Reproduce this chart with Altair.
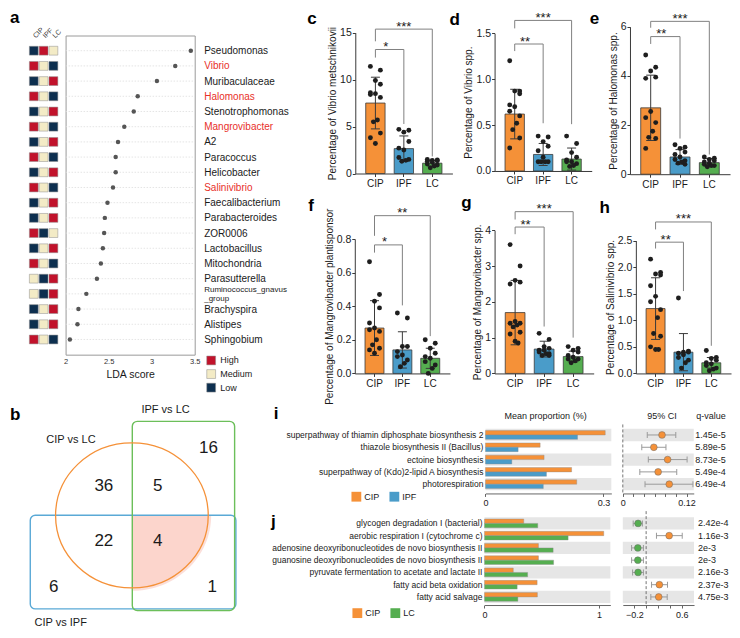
import json
import altair as alt
import pandas as pd

# ===================== DATA =====================
GROUPS = ["CIP", "IPF", "LC"]
LEVELS = ["High", "Medium", "Low"]

lda_taxa = ["Pseudomonas", "Vibrio", "Muribaculaceae", "Halomonas", "Stenotrophomonas",
            "Mangrovibacter", "A2", "Paracoccus", "Helicobacter", "Salinivibrio",
            "Faecalibacterium", "Parabacteroides", "ZOR0006", "Lactobacillus", "Mitochondria",
            "Parasutterella", "Ruminococcus_gnavus_group", "Brachyspira", "Alistipes", "Sphingobium"]
lda_score = [3.455, 3.274, 3.061, 2.838, 2.792, 2.682, 2.609, 2.582, 2.582, 2.551,
             2.487, 2.456, 2.448, 2.433, 2.410, 2.364, 2.241, 2.149, 2.138, 2.050]
lda_cip = ["Low", "High", "Low", "High", "Low", "High", "Low", "High", "Low", "High",
           "Low", "Low", "High", "Low", "High", "Medium", "Medium", "Low", "Low", "High"]
lda_ipf = ["High", "Medium", "Medium", "Medium", "Medium", "Medium", "Medium", "Medium", "Medium", "Medium",
           "Medium", "Medium", "Low", "Medium", "Medium", "Low", "Low", "Medium", "Medium", "Medium"]
lda_lc = ["Medium", "Low", "High", "Low", "High", "Low", "High", "Low", "High", "Low",
          "High", "High", "Medium", "High", "Low", "High", "High", "High", "High", "Low"]
lda_red = ["Vibrio", "Halomonas", "Mangrovibacter", "Salinivibrio"]

c_cip = [11.4, 11.0, 9.9, 9.5, 8.6, 8.5, 8.4, 8.1, 5.7, 5.5, 4.3, 3.8, 3.2]
c_ipf = [4.7, 4.6, 4.4, 3.4, 2.7, 2.5, 1.7, 1.5, 1.4, 1.3]
c_lc = [1.5, 1.45, 1.4, 1.35, 1.3, 1.2, 1.0, 0.9, 0.8, 0.6]
c_mean = [7.5, 2.65, 1.1]
c_sd = [2.75, 1.35, 0.3]
c_brackets = [("CIP", "LC", 15.37, 14.07, 1.82, "***"), ("CIP", "IPF", 13.2, 12.34, 5.27, "*")]

d_cip = [1.2, 0.87, 0.87, 0.84, 0.72, 0.7, 0.65, 0.6, 0.52, 0.45, 0.36, 0.25]
d_ipf = [0.38, 0.37, 0.32, 0.27, 0.22, 0.15, 0.1, 0.1, 0.1, 0.1]
d_lc = [0.38, 0.3, 0.2, 0.15, 0.12, 0.1, 0.1, 0.08, 0.06, 0.05]
d_mean = [0.62, 0.18, 0.13]
d_sd = [0.27, 0.12, 0.12]
d_brackets = [("CIP", "LC", 1.64, 1.553, 0.51, "***"), ("CIP", "IPF", 1.383, 1.306, 0.52, "**")]

e_cip = [4.85, 4.35, 4.2, 3.95, 3.9, 2.55, 2.3, 2.1, 1.75, 1.5, 1.45, 1.05]
e_ipf = [1.2, 1.1, 1.05, 0.9, 0.8, 0.7, 0.6, 0.55, 0.5, 0.45, 0.4]
e_lc = [0.7, 0.65, 0.6, 0.55, 0.5, 0.45, 0.4, 0.35, 0.35, 0.3]
e_mean = [2.7, 0.7, 0.47]
e_sd = [1.33, 0.3, 0.17]
e_brackets = [("CIP", "LC", 6.22, 5.96, 0.8, "***"), ("CIP", "IPF", 5.6, 5.3, 1.45, "**")]

f_cip = [0.665, 0.47, 0.43, 0.39, 0.3, 0.27, 0.26, 0.25, 0.2, 0.17, 0.15, 0.14, 0.12]
f_ipf = [0.36, 0.33, 0.16, 0.16, 0.13, 0.11, 0.1, 0.08, 0.06, 0.04]
f_lc = [0.2, 0.18, 0.15, 0.12, 0.1, 0.09, 0.07, 0.05, 0.03, 0.0]
f_mean = [0.27, 0.14, 0.09]
f_sd = [0.163, 0.108, 0.06]
f_brackets = [("CIP", "LC", 0.939, 0.819, 0.222, "**"), ("CIP", "IPF", 0.765, 0.719, 0.405, "*")]

g_cip = [3.6, 3.0, 2.6, 2.55, 2.5, 1.45, 1.4, 1.4, 1.35, 1.3, 1.15, 1.1, 0.9, 0.85]
g_ipf = [1.12, 0.95, 0.75, 0.7, 0.65, 0.65, 0.6, 0.55, 0.55, 0.5, 0.5]
g_lc = [0.75, 0.7, 0.65, 0.6, 0.5, 0.45, 0.4, 0.4, 0.35, 0.3]
g_mean = [1.7, 0.68, 0.47]
g_sd = [0.9, 0.22, 0.15]
g_brackets = [("CIP", "LC", 4.52, 4.3, 1.0, "***"), ("CIP", "IPF", 4.09, 3.89, 1.31, "**")]

h_cip = [2.15, 1.9, 1.87, 1.85, 1.65, 1.45, 1.35, 1.2, 1.05, 0.75, 0.7, 0.5, 0.45, 0.45]
h_ipf = [1.42, 0.42, 0.4, 0.4, 0.38, 0.35, 0.3, 0.25, 0.2, 0.1]
h_lc = [0.43, 0.3, 0.28, 0.25, 0.2, 0.18, 0.15, 0.1, 0.08, 0.05]
h_mean = [1.22, 0.4, 0.2]
h_sd = [0.58, 0.35, 0.1]
h_brackets = [("CIP", "LC", 2.85, 2.71, 0.52, "***"), ("CIP", "IPF", 2.47, 2.35, 1.55, "**")]

venn_sets = ["CIP vs LC", "IPF vs LC", "CIP vs IPF"]
venn_counts = ["36", "5", "16", "22", "4", "6", "1"]

i_paths = ["superpathway of thiamin diphosphate biosynthesis 2", "thiazole biosynthesis II (Bacillus)",
           "ectoine biosynthesis", "superpathway of (Kdo)2-lipid A biosynthesis", "photorespiration"]
i_cip = [0.3045, 0.139, 0.149, 0.219, 0.232]
i_ipf = [0.234, 0.083, 0.067, 0.155, 0.147]
i_diff = [0.0738, 0.0584, 0.0843, 0.0665, 0.0874]
i_lo = [0.046, 0.0357, 0.048, 0.032, 0.0418]
i_hi = [0.0997, 0.0812, 0.121, 0.1015, 0.132]
i_q = ["1.45e-5", "5.89e-5", "8.73e-5", "5.49e-4", "6.49e-4"]

j_paths = ["glycogen degradation I (bacterial)", "aerobic respiration I (cytochrome c)",
           "adenosine deoxyribonucleotides de novo biosynthesis II",
           "guanosine deoxyribonucleotides de novo biosynthesis II",
           "pyruvate fermentation to acetate and lactate II", "fatty acid beta oxidation", "fatty acid salvage"]
j_cip = [0.446, 1.355, 0.613, 0.613, 0.327, 0.598, 0.601]
j_lc = [0.605, 0.95, 0.78, 0.785, 0.49, 0.371, 0.379]
j_diff = [-0.136, 0.388, -0.14, -0.14, -0.136, 0.223, 0.212]
j_lo = [-0.218, 0.174, -0.245, -0.245, -0.228, 0.091, 0.079]
j_hi = [-0.063, 0.608, -0.046, -0.046, -0.046, 0.36, 0.355]
j_q = ["2.42e-4", "1.16e-3", "2e-3", "2e-3", "2.16e-3", "2.37e-3", "4.75e-3"]

# ===================== LAYOUT (reference pixel frame) =====================
W, H = 724, 622
RX0, RX1, RY0, RY1 = 0.0, 738.0, -1.0, 639.0
SX = W / (RX1 - RX0)
SY = H / (RY1 - RY0)


def X(v):
    return (v - RX0) * SX


def Y(v):
    return (v - RY0) * SY


FONT = "Liberation Sans"
INK = "#1a1a1a"
AXC = "#3a3a3a"
ORANGE = "#F59138"
BLUE = "#4A9CC9"
GREEN = "#55AE50"
RED_HI = "#C1122B"
CREAM = "#F3EBC6"
NAVY = "#0D2F4F"
RED_TXT = "#E8302A"
STRIPE = "#E6E6E6"
PINK = "#FCD5CC"

layers = []


def LXs():
    return alt.Scale(domain=[RX0, RX1], range=[0, W], zero=False, nice=False)


def LYs():
    return alt.Scale(domain=[RY0, RY1], range=[0, H], zero=False, nice=False)


def text_layer(df, size, align="center", baseline="middle", weight="normal", color=INK):
    return alt.Chart(df).mark_text(fontSize=size, align=align, baseline=baseline,
                                   fontWeight=weight, color=color).encode(
        x=alt.X("x:Q", scale=LXs(), axis=None),
        y=alt.Y("y:Q", scale=LYs(), axis=None),
        text="t:N")


# ---------------- panel a ----------------
lda_df = pd.DataFrame({"taxon": lda_taxa, "score": lda_score})


def lda_xs():
    return alt.Scale(domain=[2, 3.5], range=[X(58.7), X(190.3)], zero=False, nice=False)


def lda_ys():
    return alt.Scale(type="point", domain=lda_taxa, range=[Y(27.3), Y(355.7)], padding=1)


FRAME = "#9a9a9a"
layers.append(alt.Chart(lda_df).mark_rule(color="#dedede", strokeDash=[1.5, 1.5], strokeWidth=0.8).encode(
    x=alt.XDatum(2.0, type="quantitative", scale=lda_xs(), axis=None),
    x2=alt.X2Datum(3.5),
    y=alt.Y("taxon:N", scale=lda_ys(), sort=lda_taxa, axis=None)))

WRAP = "Ruminococcus_gnavus_group"
WRAP_TEST = "datum.value == '%s'" % WRAP
label_color = {"condition": {"test": "indexof(%s, datum.value) >= 0" % json.dumps(lda_red), "value": RED_TXT},
               "value": INK}
label_offset = {"condition": {"test": WRAP_TEST, "value": -4.75}, "value": 0}
label_size = {"condition": {"test": WRAP_TEST, "value": 8}, "value": 10}
layers.append(alt.Chart(lda_df).mark_circle(size=20, color="#555555", opacity=1).encode(
    x=alt.X("score:Q", scale=lda_xs(), axis=alt.Axis(
        orient="bottom", offset=Y(355.7) - H, values=[2, 2.5, 3, 3.5], format="~g", ticks=False,
        labelFontSize=7.5, labelColor="#333333", labelPadding=3, labelFlush=False, domainColor=FRAME,
        title="LDA score", titleFontSize=10.5, titleFontWeight="normal", titleColor=INK, titlePadding=4,
        grid=False)),
    y=alt.Y("taxon:N", scale=lda_ys(), sort=lda_taxa, axis=alt.Axis(
        orient="right", offset=X(190.3) - W, ticks=False, domainColor=FRAME, labelPadding=9,
        labelFontSize=label_size, labelColor=label_color, labelOffset=label_offset, labelLimit=300,
        labelLineHeight=9.5,
        labelExpr="%s ? ['Ruminococcus_gnavus', '_group'] : datum.value" % WRAP_TEST,
        title=None, grid=False))))
layers.append(alt.Chart(lda_df).mark_circle(opacity=0).encode(
    x=alt.X("score:Q", scale=lda_xs(), axis=alt.Axis(orient="top", offset=-Y(27.3), labels=False, ticks=False,
                                                     domainColor=FRAME, title=None, grid=False)),
    y=alt.Y("taxon:N", scale=lda_ys(), sort=lda_taxa, axis=alt.Axis(orient="left", offset=-X(58.7), labels=False,
                                                                    ticks=False, domainColor=FRAME, title=None,
                                                                    grid=False))))

heat_rows = []
for t, a, b, c in zip(lda_taxa, lda_cip, lda_ipf, lda_lc):
    heat_rows += [{"taxon": t, "grp": "CIP", "level": a}, {"taxon": t, "grp": "IPF", "level": b},
                  {"taxon": t, "grp": "LC", "level": c}]
heat_df = pd.DataFrame(heat_rows)
SQ = (9 * SX) ** 2
layers.append(alt.Chart(heat_df).mark_square(size=SQ, stroke="#8c8c8c", strokeWidth=0.5, opacity=1).encode(
    x=alt.X("grp:N", sort=GROUPS, scale=alt.Scale(domain=GROUPS, range=[X(21.3), X(51.3)], paddingInner=0,
                                                  paddingOuter=0),
            axis=alt.Axis(orient="top", offset=-Y(29.5), labelAngle=315, labelAlign="left", labelBaseline="middle",
                          labelFontSize=7, labelColor="#333333", labelPadding=1, ticks=False, domain=False,
                          title=None, grid=False)),
    y=alt.Y("taxon:N", scale=lda_ys(), sort=lda_taxa, axis=None),
    color=alt.Color("level:N", scale=alt.Scale(domain=LEVELS, range=[RED_HI, CREAM, NAVY]),
                    legend=alt.Legend(orient="none", legendX=X(202), legendY=Y(356.5), title=None,
                                      symbolType="square", symbolSize=SQ, symbolStrokeColor="#8c8c8c",
                                      symbolStrokeWidth=0.5, symbolOpacity=1, labelFontSize=9, labelColor=INK,
                                      labelOffset=4, rowPadding=1.6, padding=0))))

# ---------------- panels c-h ----------------
PI_, PO_ = 0.32, 0.367
JIT = [-1, 1, 0, 1, -1, 0, -1, 1, 0.4, -0.4, 1, -1, 0, 0.6, -0.6]


def bar_panel(vals, means, sds, brackets, ticks, fmt, title, x0, x1, ybase, ytop, ymax):
    xr = [X(x0), X(x1)]
    step = (xr[1] - xr[0]) / (3 - PI_ + 2 * PO_)
    bw = step * (1 - PI_)

    def xs():
        return alt.Scale(domain=GROUPS, range=xr, paddingInner=PI_, paddingOuter=PO_)

    def ys():
        return alt.Scale(domain=[0, ymax], range=[Y(ybase), Y(ytop)], nice=False)

    summ = pd.DataFrame({"grp": GROUPS, "mean": means,
                         "lo": [m - s for m, s in zip(means, sds)],
                         "hi": [m + s for m, s in zip(means, sds)]})
    rows = []
    for g, v in zip(GROUPS, vals):
        order = sorted(range(len(v)), key=lambda k: -v[k])
        for r, k in enumerate(order):
            rows.append({"grp": g, "val": v[k], "jit": JIT[r % len(JIT)]})
    pts = pd.DataFrame(rows)
    br = pd.DataFrame(brackets, columns=["g1", "g2", "lev", "lb", "rb", "star"])
    br["mid"] = "IPF"
    xaxis = alt.Axis(orient="bottom", offset=Y(ybase) - H, title=None, labelAngle=0, labelFontSize=10,
                     labelColor=INK, tickSize=3, tickColor=AXC, domainColor=AXC, labelPadding=2, grid=False)
    yaxis = alt.Axis(orient="left", offset=-X(x0), values=ticks, format=fmt, title=title, titleFontSize=10,
                     titleFontWeight="normal", titleColor=INK, titlePadding=2, labelFontSize=10.5,
                     labelColor=INK, tickSize=3, tickColor=AXC, domainColor=AXC, labelPadding=1, grid=False)
    out = [
        alt.Chart(summ).mark_bar(stroke=AXC, strokeWidth=0.8).encode(
            x=alt.X("grp:N", scale=xs(), sort=GROUPS, axis=xaxis),
            y=alt.Y("mean:Q", scale=ys(), axis=yaxis),
            color=alt.Color("grp:N", scale=alt.Scale(domain=GROUPS, range=[ORANGE, BLUE, GREEN]), legend=None)),
        alt.Chart(summ).mark_rule(color=AXC, strokeWidth=1).encode(
            x=alt.X("grp:N", scale=xs(), axis=None),
            y=alt.Y("lo:Q", scale=ys(), axis=None), y2="hi:Q"),
        alt.Chart(summ).transform_fold(["lo", "hi"], as_=["k", "v"]).mark_tick(
            color=AXC, thickness=1, size=9, opacity=1).encode(
            x=alt.X("grp:N", scale=xs(), axis=None),
            y=alt.Y("v:Q", scale=ys(), axis=None)),
        alt.Chart(pts).mark_circle(size=24, color="#1e1e1e", opacity=1).encode(
            x=alt.X("grp:N", scale=xs(), axis=None),
            xOffset=alt.XOffset("jit:Q", scale=alt.Scale(domain=[-1, 1], range=[bw / 2 - 5, bw / 2 + 5])),
            y=alt.Y("val:Q", scale=ys(), axis=None)),
        alt.Chart(br).mark_rule(color="#808080", strokeWidth=1).encode(
            x=alt.X("g1:N", scale=xs(), axis=None), x2="g2:N",
            y=alt.Y("lev:Q", scale=ys(), axis=None)),
        alt.Chart(br).mark_rule(color="#808080", strokeWidth=1).encode(
            x=alt.X("g1:N", scale=xs(), axis=None),
            y=alt.Y("lev:Q", scale=ys(), axis=None), y2="lb:Q"),
        alt.Chart(br).mark_rule(color="#808080", strokeWidth=1).encode(
            x=alt.X("g2:N", scale=xs(), axis=None),
            y=alt.Y("lev:Q", scale=ys(), axis=None), y2="rb:Q"),
        alt.Chart(br[br.g2 == "LC"]).mark_text(fontSize=13, baseline="alphabetic", dy=1.5, color=INK).encode(
            x=alt.X("mid:N", scale=xs(), axis=None),
            y=alt.Y("lev:Q", scale=ys(), axis=None), text="star:N"),
        alt.Chart(br[br.g2 == "IPF"]).mark_text(fontSize=13, baseline="alphabetic", dy=1.5, dx=step / 2,
                                                color=INK).encode(
            x=alt.X("g1:N", scale=xs(), axis=None),
            y=alt.Y("lev:Q", scale=ys(), axis=None), text="star:N"),
    ]
    return out


layers += bar_panel([c_cip, c_ipf, c_lc], c_mean, c_sd, c_brackets, [0, 5, 10, 15], "d",
                    "Percentage of Vibrio metschnikovii", 354, 453, 169.3, 24.3, 15)
layers += bar_panel([d_cip, d_ipf, d_lc], d_mean, d_sd, d_brackets, [0, 0.5, 1.0, 1.5], ".1f",
                    "Percentage of Vibrio spp.", 496, 595, 166.7, 25, 1.5)
layers += bar_panel([e_cip, e_ipf, e_lc], e_mean, e_sd, e_brackets, [0, 2, 4, 6], "d",
                    "Percentage of Halomonas spp.", 634, 736, 170, 18.3, 6)
layers += bar_panel([f_cip, f_ipf, f_lc], f_mean, f_sd, f_brackets, [0, 0.2, 0.4, 0.6, 0.8], ".1f",
                    "Percentage of Mangrovibacter plantisponsor", 353.5, 450.5, 375, 236.7, 0.8)
layers += bar_panel([g_cip, g_ipf, g_lc], g_mean, g_sd, g_brackets, [0, 1, 2, 3, 4], "d",
                    "Percentage of Mangrovibacter spp.", 496, 597, 375, 227.7, 4)
layers += bar_panel([h_cip, h_ipf, h_lc], h_mean, h_sd, h_brackets, [0, 0.5, 1.0, 1.5, 2.0, 2.5], ".1f",
                    "Percentage of Salinivibrio spp.", 640, 737, 375, 238.3, 2.5)

# ---------------- panel b (Venn) ----------------
VC = (126.3, 521.1, 77.8)  # centre x, centre y, horizontal radius (reference px)
ELLIPSE = "M-1,0A1,0.95 0 1,1 1,0A1,0.95 0 1,1 -1,0Z"
QUARTER = "M0,0L1,0A1,0.95 0 0,1 0,0.95Z"
csize = (2 * VC[2] * SX) ** 2
cdf = pd.DataFrame({"x": [VC[0]], "y": [VC[1]]})
layers.append(alt.Chart(cdf).mark_point(shape=QUARTER, filled=True, fill="#F6B9AD", size=(2 * (VC[2] + 3) * SX) ** 2,
                                        opacity=0.45, strokeWidth=0).encode(
    x=alt.X("x:Q", scale=LXs(), axis=None), y=alt.Y("y:Q", scale=LYs(), axis=None)))
layers.append(alt.Chart(cdf).mark_point(shape=QUARTER, filled=True, fill=PINK, size=csize, opacity=1,
                                        strokeWidth=0).encode(
    x=alt.X("x:Q", scale=LXs(), axis=None), y=alt.Y("y:Q", scale=LYs(), axis=None)))
rect_blue = pd.DataFrame({"x": [22.7], "x2": [232.3], "y": [521.0], "y2": [617.3]})
rect_green = pd.DataFrame({"x": [126.7], "x2": [231.0], "y": [424.3], "y2": [619.0]})
for rdf, col in [(rect_blue, "#5AA9D6"), (rect_green, "#6CBF5A")]:
    layers.append(alt.Chart(rdf).mark_rect(fillOpacity=0, stroke=col, strokeWidth=1.4, cornerRadius=5).encode(
        x=alt.X("x:Q", scale=LXs(), axis=None), x2="x2:Q",
        y=alt.Y("y:Q", scale=LYs(), axis=None), y2="y2:Q"))
layers.append(alt.Chart(cdf).mark_point(shape=ELLIPSE, filled=False, stroke=ORANGE, strokeWidth=1.3, size=csize,
                                        opacity=1).encode(
    x=alt.X("x:Q", scale=LXs(), axis=None), y=alt.Y("y:Q", scale=LYs(), axis=None)))
venn_count_pos = [(97.7, 491), (152.7, 491), (204.3, 451.7), (97.7, 547.3), (152.7, 547.3), (46.7, 595),
                  (208.3, 595)]
layers.append(text_layer(pd.DataFrame({"t": venn_counts, "x": [p[0] for p in venn_count_pos],
                                       "y": [p[1] for p in venn_count_pos]}), 17))
venn_label_pos = [(39, 443), (136, 413), (27, 632)]
layers.append(text_layer(pd.DataFrame({"t": venn_sets, "x": [p[0] for p in venn_label_pos],
                                       "y": [p[1] for p in venn_label_pos]}), 11, align="left"))


# ---------------- panels i, j ----------------
def path_panel(paths, a_vals, b_name, b_vals, diff, lo, hi, qv, rows_y, axis_y, dash_top,
               bar_x, bar_max, bar_ticks, ci_x, ci_dom, ci_ticks, leg_xy, q_dx):
    n = len(paths)
    grp2 = ["CIP", b_name]
    col2 = [ORANGE, BLUE if b_name == "IPF" else GREEN]

    def ys():
        return alt.Scale(type="band", domain=paths, range=[Y(rows_y[0]), Y(rows_y[1])], paddingInner=0,
                         paddingOuter=0)

    def bxs():
        return alt.Scale(domain=[0, bar_max], range=[X(bar_x[0]), X(bar_x[1])], nice=False)

    def cxs():
        return alt.Scale(domain=ci_dom, range=[X(ci_x[0]), X(ci_x[1])], nice=False)

    def cs():
        return alt.Scale(domain=grp2, range=col2)

    stripe = pd.DataFrame({"path": [p for k, p in enumerate(paths) if k % 2 == 0]})
    bars = pd.DataFrame({"path": list(paths) * 2, "grp": ["CIP"] * n + [b_name] * n,
                         "val": list(a_vals) + list(b_vals)})
    ci = pd.DataFrame({"path": paths, "diff": diff, "lo": lo, "hi": hi, "q": qv,
                       "grp": ["CIP" if d > 0 else b_name for d in diff]})
    first, last = ci_ticks[0], ci_ticks[-1]
    out = [
        alt.Chart(stripe).mark_rect(color=STRIPE).encode(
            x=alt.XDatum(0.0, type="quantitative", scale=bxs(), axis=None), x2=alt.X2Datum(bar_max),
            y=alt.Y("path:N", scale=ys(), sort=paths, axis=None)),
        alt.Chart(stripe).mark_rect(color=STRIPE).encode(
            x=alt.XDatum(ci_dom[0], type="quantitative", scale=cxs(), axis=None), x2=alt.X2Datum(ci_dom[1]),
            y=alt.Y("path:N", scale=ys(), sort=paths, axis=None)),
        alt.Chart(bars).mark_bar(stroke="#8a8a8a", strokeWidth=0.4).encode(
            x=alt.X("val:Q", scale=bxs(), axis=alt.Axis(
                orient="bottom", offset=Y(axis_y) - H, values=bar_ticks, format="~g", tickSize=3,
                tickColor="#666666", domainColor="#666666", labelFontSize=9, labelColor=INK, labelPadding=2,
                labelFlush=False, title=None, grid=False)),
            y=alt.Y("path:N", scale=ys(), sort=paths, axis=alt.Axis(
                orient="left", offset=-X(bar_x[0]), ticks=False, domain=False, labelPadding=2.5,
                labelFontSize=8.5, labelColor=INK, labelLimit=400, title=None, grid=False)),
            yOffset=alt.YOffset("grp:N", sort=grp2, scale=alt.Scale(domain=grp2, paddingInner=0, paddingOuter=0.4)),
            color=alt.Color("grp:N", scale=cs(), legend=alt.Legend(
                orient="none", legendX=X(leg_xy[0]), legendY=Y(leg_xy[1]), direction="horizontal", title=None,
                symbolType="square", symbolSize=(10 * SX) ** 2, symbolStrokeWidth=0, symbolOpacity=1,
                labelFontSize=9, labelColor=INK, labelOffset=3, columnPadding=9, padding=0))),
        alt.Chart(ci.head(1)).mark_rule(color="#666666", strokeDash=[3, 2], strokeWidth=0.9).encode(
            x=alt.XDatum(0.0, type="quantitative", scale=cxs(), axis=None),
            y=alt.YDatum(0.0, type="quantitative", scale=alt.Scale(domain=[0, 1], range=[Y(dash_top), Y(axis_y)]),
                         axis=None),
            y2=alt.Y2Datum(1.0)),
        alt.Chart(ci).mark_rule(color="#9a9a9a", strokeWidth=1).encode(
            x=alt.X("lo:Q", scale=cxs(), axis=None), x2="hi:Q",
            y=alt.Y("path:N", scale=ys(), sort=paths, axis=None)),
        alt.Chart(ci).transform_fold(["lo", "hi"], as_=["k", "v"]).mark_tick(
            color="#9a9a9a", thickness=1, size=6, opacity=1).encode(
            x=alt.X("v:Q", scale=cxs(), axis=None),
            y=alt.Y("path:N", scale=ys(), sort=paths, axis=None)),
        alt.Chart(ci).mark_circle(size=46, stroke="#6b6b6b", strokeWidth=0.5, opacity=1).encode(
            x=alt.X("diff:Q", scale=cxs(), axis=alt.Axis(
                orient="bottom", offset=Y(axis_y) - H, values=ci_ticks, format="~g", tickSize=3,
                tickColor="#666666", domainColor="#666666", labelFontSize=9, labelColor=INK, labelPadding=2,
                labelFlush=False, title=None, grid=False,
                labelExpr="(datum.value == %s || datum.value == %s) ? datum.label : ''" % (first, last))),
            y=alt.Y("path:N", scale=ys(), sort=paths, axis=None),
            color=alt.Color("grp:N", scale=cs(), legend=None)),
        alt.Chart(ci).mark_text(fontSize=9, align="left", baseline="middle", dx=q_dx, color=INK).encode(
            x=alt.XDatum(ci_dom[1], type="quantitative", scale=cxs(), axis=None),
            y=alt.Y("path:N", scale=ys(), sort=paths, axis=None),
            text="q:N"),
    ]
    return out


layers += path_panel(i_paths, i_cip, "IPF", i_ipf, i_diff, i_lo, i_hi, i_q,
                     rows_y=(432.0, 495.3), axis_y=498.5, dash_top=427.5,
                     bar_x=(486.7, 615.0), bar_max=0.32, bar_ticks=[0, 0.3],
                     ci_x=(626.7, 699.0), ci_dom=[0, 0.1335],
                     ci_ticks=[0, 0.02, 0.04, 0.06, 0.08, 0.1, 0.12], leg_xy=(350, 496.7), q_dx=1.5)
layers += path_panel(j_paths, j_cip, "LC", j_lc, j_diff, j_lo, j_hi, j_q,
                     rows_y=(523.0, 611.3), axis_y=613.3, dash_top=516.7,
                     bar_x=(485.7, 614.0), bar_max=1.43, bar_ticks=[0, 1.3],
                     ci_x=(626.7, 699.3), ci_dom=[-0.393, 0.807],
                     ci_ticks=[-0.2, 0, 0.2, 0.4, 0.6], leg_xy=(351, 616.5), q_dx=4)

heads = pd.DataFrame({"t": ["Mean proportion (%)", "95% CI", "q-value"],
                      "x": [548, 666.7, 716.7], "y": [419.3, 419.3, 419.3]})
layers.append(text_layer(heads, 9))

letters = pd.DataFrame({"t": ["a", "b", "c", "d", "e", "f", "g", "h", "i", "j"],
                        "x": [2, 2, 305, 450, 593, 306, 462, 603, 271, 268],
                        "y": [14, 423, 15.5, 16.5, 15.5, 208, 205, 210, 422, 533]})
layers.append(text_layer(letters, 17, align="left", baseline="alphabetic", weight="bold", color="#000000"))

chart = alt.layer(*layers).resolve_scale(
    x="independent", y="independent", color="independent", xOffset="independent", yOffset="independent"
).resolve_axis(x="independent", y="independent").resolve_legend(color="independent").properties(
    width=W, height=H, padding=0, autosize=alt.AutoSizeParams(type="none")
).configure(font=FONT).configure_view(strokeWidth=0).configure_axis(
    labelFont=FONT, titleFont=FONT).configure_legend(labelFont=FONT).configure_text(font=FONT)

chart.save("out.html", embed_options={"renderer": "svg", "actions": False})
